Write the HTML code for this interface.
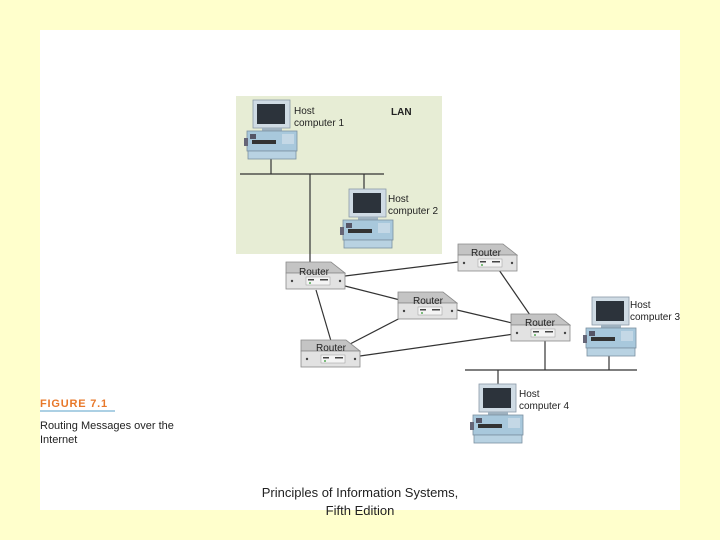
<!DOCTYPE html>
<html><head><meta charset="utf-8"><style>
html,body{margin:0;padding:0;background:#ffffcc;}
svg{display:block}
</style></head><body>
<svg width="720" height="540" viewBox="0 0 720 540" xmlns="http://www.w3.org/2000/svg" font-family="Liberation Sans, sans-serif">
<defs>
<g id="pc">
<rect x="9" y="0" width="37" height="28" fill="#cfdbe4" stroke="#8a9aa8" stroke-width="0.8"/>
<rect x="13" y="4" width="28" height="20" fill="#2c333b"/>
<rect x="18" y="28" width="20" height="3" fill="#9fb2c0"/>
<rect x="3" y="31" width="50" height="20" fill="#a8c8dc" stroke="#7a90a0" stroke-width="0.8"/>
<rect x="8" y="40" width="24" height="4" fill="#333"/>
<rect x="6" y="34" width="6" height="5" fill="#556"/>
<rect x="38" y="34" width="12" height="10" fill="#c4d8e6"/>
<rect x="0" y="38" width="4" height="8" fill="#667"/>
<rect x="4" y="51" width="48" height="8" fill="#b8d2e2" stroke="#7a90a0" stroke-width="0.8"/>
</g>
<g id="rt">
<polygon points="0,0 45,0 59,11 0,11" fill="#c4c4c4" stroke="#8a8a8a" stroke-width="0.8"/>
<rect x="0" y="11" width="59" height="16" fill="#e2e2e2" stroke="#8a8a8a" stroke-width="0.8"/>
<rect x="20" y="15" width="24" height="8" fill="#f4f4f4" stroke="#999" stroke-width="0.5"/>
<rect x="22" y="17" width="6" height="1.5" fill="#444"/>
<rect x="34" y="17" width="8" height="1.5" fill="#444"/>
<circle cx="24" cy="21" r="1" fill="#5a5"/>
<circle cx="6" cy="19" r="1.2" fill="#444"/>
<circle cx="54" cy="19" r="1.2" fill="#444"/>
</g>
</defs>
<rect x="40" y="30" width="640" height="480" fill="#ffffff"/>
<rect x="236" y="96" width="206" height="158" fill="#e7edd5"/>
<g stroke="#333" stroke-width="1.2" fill="none">
<line x1="240" y1="174" x2="384" y2="174"/>
<line x1="271" y1="158" x2="271" y2="174"/>
<line x1="364" y1="174" x2="364" y2="192"/>
<line x1="310" y1="174" x2="310" y2="263"/>
<line x1="345" y1="276" x2="458" y2="262"/>
<line x1="345" y1="286" x2="400" y2="300"/>
<line x1="316" y1="290" x2="331" y2="341"/>
<line x1="350" y1="344" x2="408" y2="314"/>
<line x1="360" y1="356" x2="514" y2="334"/>
<line x1="457" y1="310" x2="512" y2="323"/>
<line x1="499" y1="270" x2="530" y2="315"/>
<line x1="465" y1="370" x2="637" y2="370"/>
<line x1="545" y1="340" x2="545" y2="370"/>
<line x1="609" y1="355" x2="609" y2="370"/>
<line x1="498" y1="370" x2="498" y2="386"/>
</g>
<use href="#pc" x="244" y="100"/>
<use href="#pc" x="340" y="189"/>
<use href="#pc" x="583" y="297"/>
<use href="#pc" x="470" y="384"/>
<use href="#rt" x="286" y="262"/>
<use href="#rt" x="458" y="244"/>
<use href="#rt" x="398" y="292"/>
<use href="#rt" x="511" y="314"/>
<use href="#rt" x="301" y="340"/>
<g font-size="10" fill="#222">
<text x="299" y="275">Router</text>
<text x="471" y="256">Router</text>
<text x="413" y="304">Router</text>
<text x="525" y="326">Router</text>
<text x="316" y="351">Router</text>
<text x="294" y="114">Host</text><text x="294" y="126">computer 1</text>
<text x="388" y="202">Host</text><text x="388" y="214">computer 2</text>
<text x="630" y="308">Host</text><text x="630" y="320">computer 3</text>
<text x="519" y="397">Host</text><text x="519" y="409">computer 4</text>
<text x="391" y="115" font-weight="bold">LAN</text>
</g>
<text x="40" y="407" font-size="11" font-weight="bold" fill="#e8782a" letter-spacing="0.8">FIGURE 7.1</text>
<line x1="40" y1="411" x2="115" y2="411" stroke="#5aa0c8" stroke-width="1"/>
<text x="40" y="429" font-size="11" fill="#222">Routing Messages over the</text>
<text x="40" y="443" font-size="11" fill="#222">Internet</text>
<text x="360" y="497" font-size="13" fill="#222" text-anchor="middle">Principles of Information Systems,</text>
<text x="360" y="515" font-size="13" fill="#222" text-anchor="middle">Fifth Edition</text>
</svg>
</body></html>
